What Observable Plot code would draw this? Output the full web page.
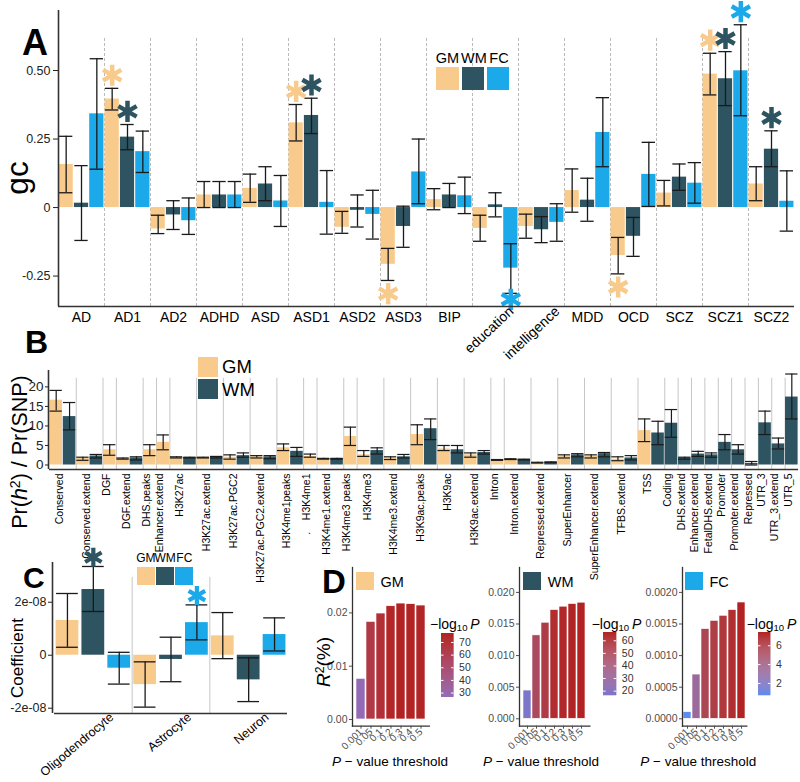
<!DOCTYPE html>
<html>
<head>
<meta charset="utf-8">
<script src="https://cdn.jsdelivr.net/npm/d3@7"></script>
<script src="https://cdn.jsdelivr.net/npm/@observablehq/plot@0.6"></script>
<style>
  html, body { margin: 0; padding: 0; background: #fff; }
  #root { position: relative; width: 800px; height: 782px; overflow: hidden; font-family: "Liberation Sans", Arial, Helvetica, sans-serif; color: #000; }
  .ov { position: absolute; line-height: 1; white-space: nowrap; }
  .sw { position: absolute; }
</style>
</head>
<body>
<div id="root"></div>
<script>
// ================= DATA =================
// Panel A: genetic correlation (gc)
const traitsA = ["AD","AD1","AD2","ADHD","ASD","ASD1","ASD2","ASD3","BIP","education","intelligence","MDD","OCD","SCZ","SCZ1","SCZ2"];
const rotatedTraitsA = ["education","intelligence"];
const tissues = ["GM","WM","FC"];
const gcGM   = [0.157, 0.396, -0.078, 0.046, 0.070, 0.309, -0.072, -0.207, 0.029, -0.076, -0.069, 0.062, -0.175, 0.053, 0.487, 0.086];
const gcGMlo = [0.054, 0.356, -0.095, 0.000, 0.019, 0.243, -0.094, -0.266, -0.008, -0.123, -0.112, -0.017, -0.242, 0.006, 0.411, 0.025];
const gcGMhi = [0.260, 0.435, -0.028, 0.095, 0.122, 0.376, -0.014, -0.149, 0.069, -0.028, -0.024, 0.141, -0.109, 0.099, 0.563, 0.149];
const gcWM   = [0.016, 0.257, -0.027, 0.046, 0.086, 0.336, -0.010, -0.069, 0.046, 0.010, -0.081, 0.027, -0.105, 0.111, 0.470, 0.213];
const gcWMlo = [-0.120, 0.211, -0.080, 0.000, 0.025, 0.270, -0.071, -0.145, 0.000, -0.034, -0.128, -0.050, -0.178, 0.063, 0.372, 0.149];
const gcWMhi = [0.153, 0.303, 0.025, 0.095, 0.149, 0.399, 0.046, 0.005, 0.088, 0.054, -0.033, 0.107, -0.036, 0.159, 0.569, 0.280];
const gcFC   = [0.342, 0.204, -0.048, 0.046, 0.024, 0.019, -0.025, 0.130, 0.043, -0.221, -0.054, 0.274, 0.121, 0.089, 0.499, 0.023];
const gcFClo = [0.140, 0.128, -0.098, 0.000, -0.069, -0.097, -0.115, 0.014, -0.022, -0.313, -0.123, 0.149, 0.004, 0.016, 0.335, -0.086];
const gcFChi = [0.543, 0.279, 0.035, 0.095, 0.117, 0.135, 0.063, 0.250, 0.111, -0.132, 0.014, 0.401, 0.238, 0.164, 0.667, 0.134];
const sigGM_A = ["AD1","ASD1","ASD3","OCD","SCZ1"];
const sigWM_A = ["AD1","ASD1","SCZ1","SCZ2"];
const sigFC_A = ["education","SCZ1"];
const ticksA = [-0.25, 0, 0.25, 0.5];
const tickLabelsA = ["-0.25", "0", "0.25", "0.50"];

// Panel B: enrichment Pr(h2)/Pr(SNP)
const annotB = ["Conserved","Conserved.extend","DGF","DGF.extend","DHS.peaks","Enhancer.extend","H3K27ac","H3K27ac.extend","H3K27ac.PGC2","H3K27ac.PGC2.extend","H3K4me1peaks",".\u00a0\u00a0\u00a0\u00a0H3K4me1","H3K4me1.extend","H3K4me3 peaks","H3K4me3","H3K4me3.extend","H3K9ac.peaks","H3K9ac","H3K9ac.extend","Intron","Intron.extend","Repressed.extend","SuperEnhancer","SuperEnhancer.extend","TFBS.extend","TSS","Coding","DHS.extend","Enhancer.extend","FetalDHS.extend","Promoter","Promoter.extend","Repressed","UTR_3","UTR_3.extend","UTR_5"];
const tissuesB = ["GM","WM"];
const enrGM   = [16.6,1.7,3.9,1.6,3.9,5.8,1.9,1.9,2.0,2.1,4.4,2.2,1.6,7.3,2.6,1.8,7.8,4.1,2.6,1.3,1.5,0.6,2.2,2.2,1.5,8.8,null,null,null,null,null,null,null,null,null,null];
const enrGMlo = [13.8,1.2,2.5,1.5,2.4,3.9,1.8,1.8,1.5,1.8,3.7,2.0,1.5,5.0,2.2,1.4,5.2,3.7,2.0,1.2,1.4,0.5,1.8,1.8,1.1,6.0,null,null,null,null,null,null,null,null,null,null];
const enrGMhi = [19.1,2.0,5.2,1.8,5.2,7.7,2.1,2.0,2.6,2.4,5.4,2.8,1.7,9.7,3.7,2.1,10.3,5.0,3.1,1.4,1.6,0.7,2.6,2.6,2.1,11.8,null,null,null,null,null,null,null,null,null,null];
const enrWM   = [12.4,2.3,null,1.8,null,null,1.9,2.0,2.4,2.1,3.5,null,1.6,null,3.7,2.1,9.3,3.9,3.2,null,1.4,0.7,2.6,2.9,1.8,8.2,10.7,1.8,2.8,2.6,5.8,3.9,0.4,10.8,5.4,17.4];
const enrWMlo = [9.0,1.8,null,1.3,null,null,1.8,1.8,2.0,1.6,2.2,null,1.5,null,2.8,1.8,6.5,3.1,2.8,null,1.3,0.6,2.1,2.1,1.3,5.2,7.1,1.5,2.2,2.0,3.9,2.8,0.0,7.8,4.1,11.8];
const enrWMhi = [16.0,2.7,null,2.1,null,null,2.0,2.2,3.1,2.4,4.5,null,1.7,null,4.4,2.7,11.8,5.0,3.7,null,1.5,0.8,2.9,3.2,2.4,11.2,14.2,2.0,3.5,3.1,7.8,5.2,0.9,13.8,6.9,23.3];
const ticksB = [0, 5, 10, 15, 20];

// Panel C: cell-type coefficients
const cellTypes = ["Oligodendrocyte","Astrocyte","Neuron"];
const coefGM   = [1.31e-8, -1.11e-8, 0.73e-8];
const coefGMlo = [0.30e-8, -1.96e-8, -0.13e-8];
const coefGMhi = [2.33e-8, -0.25e-8, 1.61e-8];
const coefWM   = [2.48e-8, -0.16e-8, -0.93e-8];
const coefWMlo = [1.65e-8, -1.00e-8, -1.75e-8];
const coefWMhi = [3.35e-8, 0.68e-8, -0.10e-8];
const coefFC   = [-0.49e-8, 1.23e-8, 0.78e-8];
const coefFClo = [-1.09e-8, 0.58e-8, 0.16e-8];
const coefFChi = [0.11e-8, 1.90e-8, 1.41e-8];
const sigGM_C = [];
const sigWM_C = ["Oligodendrocyte"];
const sigFC_C = ["Astrocyte"];
const ticksC = [-2e-8, 0, 2e-8];

// Panel D: PRS R2 by P-value threshold
const thresholds = ["0.001","0.05","0.1","0.2","0.3","0.4","0.5"];
const r2GM = [0.00763, 0.01831, 0.01988, 0.02125, 0.02175, 0.02163, 0.02138];
const r2WM = [0.00447, 0.01320, 0.01520, 0.01720, 0.01774, 0.01816, 0.01837];
const r2FC = [0.000105, 0.00070, 0.00142, 0.00155, 0.00163, 0.00172, 0.00184];
const logpGM = [26.5, 64.9, 70.5, 75.3, 77.1, 76.7, 75.8];
const logpWM = [16.3, 47.9, 55.1, 62.4, 64.3, 65.9, 66.6];
const logpFC = [0.69, 3.3, 5.7, 6.2, 6.5, 6.9, 7.41];
const ticksD_GM = [0, 0.01, 0.02];
const ticksD_WM = [0, 0.005, 0.01, 0.015, 0.02];
const ticksD_FC = [0, 0.0005, 0.001, 0.0015, 0.002];
const legendTicksGM = [30, 40, 50, 60, 70];
const legendTicksWM = [20, 30, 40, 50, 60];
const legendTicksFC = [2, 4, 6];

// ================= STYLE =================
const FONT = '"Liberation Sans", Arial, Helvetica, sans-serif';
const INK = "#1a1a1a";
const AXIS = "#333333";
const tissueColors = ["#F8CB8C", "#2E5461", "#1BA9EA"];
const colorTissue = {domain: tissues, range: tissueColors};
const root = document.getElementById("root");
const pstyle = fs => ({background: "transparent", fontFamily: FONT, fontSize: fs + "px", overflow: "visible", maxWidth: "none", color: "#000"});

function place(el, left, top, w) {
  const wrap = document.createElement("div");
  wrap.style.cssText = `position:absolute;left:${left}px;top:${top}px;width:${w}px;`;
  wrap.appendChild(el);
  root.appendChild(wrap);
}
function txt(html, x, baseline, fs, opts = {}) {
  const d = document.createElement("div");
  d.className = "ov";
  d.innerHTML = html;
  d.style.fontSize = fs + "px";
  d.style.height = fs + "px";
  d.style.left = x + "px";
  d.style.top = (baseline - 0.8465 * fs) + "px";
  if (opts.bold) d.style.fontWeight = "bold";
  if (opts.color) d.style.color = opts.color;
  const tx = opts.anchor === "middle" ? "-50%" : opts.anchor === "end" ? "-100%" : "0";
  d.style.transform = `translateX(${tx})`;
  root.appendChild(d);
}
function vtxt(html, cx, cy, fs, opts = {}) {
  const d = document.createElement("div");
  d.className = "ov";
  d.innerHTML = html;
  d.style.fontSize = fs + "px";
  d.style.height = fs + "px";
  d.style.left = cx + "px";
  d.style.top = cy + "px";
  if (opts.color) d.style.color = opts.color;
  d.style.transform = "translate(-50%, -50%) rotate(-90deg)";
  root.appendChild(d);
}
function swatch(color, x1, y1, x2, y2) {
  const d = document.createElement("div");
  d.className = "sw";
  d.style.cssText = `position:absolute;left:${x1}px;top:${y1}px;width:${x2 - x1}px;height:${y2 - y1}px;background:${color};`;
  root.appendChild(d);
}
function errorMarks(rows, xc, half, sw) {
  return [
    Plot.ruleX(rows, {x: xc, y1: "lo", y2: "hi", stroke: INK, strokeWidth: sw}),
    Plot.ruleY(rows, {y: "lo", x1: d => xc(d) - half, x2: d => xc(d) + half, stroke: INK, strokeWidth: sw}),
    Plot.ruleY(rows, {y: "hi", x1: d => xc(d) - half, x2: d => xc(d) + half, stroke: INK, strokeWidth: sw})
  ];
}

// ================= PANEL A =================
const gcTable = {
  GM: {est: gcGM, lo: gcGMlo, hi: gcGMhi, sig: sigGM_A},
  WM: {est: gcWM, lo: gcWMlo, hi: gcWMhi, sig: sigWM_A},
  FC: {est: gcFC, lo: gcFClo, hi: gcFChi, sig: sigFC_A}
};
const rowsA = traitsA.flatMap((t, i) => tissues.map((s, j) => ({
  trait: t, tissue: s, i, j,
  est: gcTable[s].est[i], lo: gcTable[s].lo[i], hi: gcTable[s].hi[i], sig: gcTable[s].sig.includes(t)
})));
const yDomA = [-0.361, 0.719];
const xcA = d => d.i + (d.j + 0.5) / 3;
const labelMapA = new Map(ticksA.map((t, k) => [t, tickLabelsA[k]]));
const plotA = Plot.plot({
  width: 800, height: 370, marginLeft: 58, marginRight: 6, marginTop: 10, marginBottom: 64,
  style: pstyle(13),
  x: {type: "linear", domain: [0, traitsA.length], axis: null},
  y: {domain: yDomA, axis: null},
  color: colorTissue,
  marks: [
    Plot.ruleX(d3.range(1, traitsA.length), {y1: yDomA[0], y2: 0.62, stroke: "#a8a8a8", strokeWidth: 0.8, strokeDasharray: "3,2"}),
    Plot.rect(rowsA, {x1: d => d.i + d.j / 3 + 0.012, x2: d => d.i + (d.j + 1) / 3 - 0.012, y1: 0, y2: "est", fill: "tissue"}),
    ...errorMarks(rowsA, xcA, 0.145, 1.3),
    Plot.dot(rowsA.filter(d => d.sig), {
      x: xcA, y: d => d.est >= 0 ? d.hi + 0.048 : Math.max(d.lo - 0.048, -0.335),
      symbol: "asterisk", r: 10, stroke: "tissue", strokeWidth: 4.5
    }),
    Plot.ruleX([0], {stroke: AXIS, strokeWidth: 1.6}),
    Plot.ruleY([yDomA[0]], {stroke: AXIS, strokeWidth: 1.6}),
    Plot.axisY(ticksA, {tickFormat: d => labelMapA.get(d), tickSize: 5, tickPadding: 3, fontSize: 12.5, color: "#222", label: null}),
    Plot.text(traitsA.filter(t => !rotatedTraitsA.includes(t)), {x: t => traitsA.indexOf(t) + 0.5, frameAnchor: "bottom", lineAnchor: "top", dy: 5.5, fontSize: 14, fill: "#000"}),
    Plot.text(rotatedTraitsA, {x: t => traitsA.indexOf(t) + 0.5, frameAnchor: "bottom", textAnchor: "end", rotate: -43, dx: 19, dy: 6, fontSize: 14, fill: "#000"})
  ]
});
place(plotA, 0, 0, 800);

// ================= PANEL B =================
const enrTable = {
  GM: {v: enrGM, lo: enrGMlo, hi: enrGMhi},
  WM: {v: enrWM, lo: enrWMlo, hi: enrWMhi}
};
const rowsB = [], groupsB = [];
let slot = 0;
annotB.forEach((name, g) => {
  const start = slot;
  tissuesB.forEach(s => {
    const v = enrTable[s].v[g];
    if (v != null) rowsB.push({name, tissue: s, pos: slot++, v, lo: enrTable[s].lo[g], hi: enrTable[s].hi[g]});
  });
  groupsB.push({name, start, end: slot});
});
const yDomB = [-1.15, 24.2];
const xcB = d => d.pos + 0.5;
const plotB = Plot.plot({
  width: 800, height: 220, marginLeft: 49, marginRight: 2, marginTop: 10, marginBottom: 111,
  style: pstyle(13),
  x: {type: "linear", domain: [0, rowsB.length], axis: null},
  y: {domain: yDomB, axis: null},
  color: colorTissue,
  marks: [
    Plot.ruleX(groupsB.slice(1), {x: "start", y1: yDomB[0], y2: 22.2, stroke: "#c6c6c6", strokeWidth: 1}),
    Plot.rect(rowsB, {x1: d => d.pos + 0.03, x2: d => d.pos + 0.97, y1: 0, y2: "v", fill: "tissue"}),
    ...errorMarks(rowsB, xcB, 0.46, 1.2),
    Plot.ruleX([0], {stroke: AXIS, strokeWidth: 1.6, dx: -1}),
    Plot.ruleY([yDomB[0]], {stroke: AXIS, strokeWidth: 1.6}),
    Plot.axisY(ticksB, {tickSize: 4, tickPadding: 2, fontSize: 13.5, color: "#222", label: null}),
    Plot.text(groupsB, {x: d => (d.start + d.end) / 2, text: "name", frameAnchor: "bottom", rotate: -90, textAnchor: "end", dy: 4, fontSize: 10.5, fill: "#000"})
  ]
});
place(plotB, 0, 360, 800);

// ================= PANEL C =================
const coefTable = {
  GM: {est: coefGM, lo: coefGMlo, hi: coefGMhi, sig: sigGM_C},
  WM: {est: coefWM, lo: coefWMlo, hi: coefWMhi, sig: sigWM_C},
  FC: {est: coefFC, lo: coefFClo, hi: coefFChi, sig: sigFC_C}
};
const rowsC = cellTypes.flatMap((t, i) => tissues.map((s, j) => ({
  cell: t, tissue: s, i, j,
  est: coefTable[s].est[i], lo: coefTable[s].lo[i], hi: coefTable[s].hi[i], sig: coefTable[s].sig.includes(t)
})));
const yDomC = [-2.2e-8, 3.5e-8];
const xcC = d => d.i + (d.j + 0.5) / 3;
const sci = d => {
  if (d === 0) return "0";
  const [m, e] = d.toExponential(0).split("e");
  const sign = e[0] === "-" ? "-" : "+";
  return `${m}e${sign}${e.replace(/[+-]/, "").padStart(2, "0")}`;
};
const plotC = Plot.plot({
  width: 300, height: 242, marginLeft: 54, marginRight: 13, marginTop: 22, marginBottom: 69,
  style: pstyle(12.5),
  x: {type: "linear", domain: [0, cellTypes.length], axis: null},
  y: {domain: yDomC, axis: null},
  color: colorTissue,
  marks: [
    Plot.ruleX(d3.range(1, cellTypes.length), {y1: yDomC[0], y2: 2.94e-8, stroke: "#c6c6c6", strokeWidth: 1}),
    Plot.rect(rowsC, {x1: d => d.i + d.j / 3 + 0.02, x2: d => d.i + (d.j + 1) / 3 - 0.02, y1: 0, y2: "est", fill: "tissue"}),
    ...errorMarks(rowsC, xcC, 0.14, 1.3),
    Plot.dot(rowsC.filter(d => d.sig), {x: xcC, y: d => d.hi + 0.35e-8, symbol: "asterisk", r: 9, stroke: "tissue", strokeWidth: 4.2}),
    Plot.ruleX([0], {stroke: AXIS, strokeWidth: 1.6, dx: -2}),
    Plot.ruleY([yDomC[0]], {stroke: AXIS, strokeWidth: 1.6, x1: 0, x2: cellTypes.length}),
    Plot.axisY(ticksC, {tickFormat: sci, tickSize: 4, tickPadding: 2, fontSize: 12.5, color: "#222", dx: -2, label: null}),
    Plot.text(cellTypes, {x: (t, k) => k + 0.5, frameAnchor: "bottom", textAnchor: "end", rotate: -40, dx: 21, dy: 5, fontSize: 12.5, fill: "#000"})
  ]
});
place(plotC, 0, 540, 300);

// ================= PANEL D =================
const dPanels = [
  {name: "GM", color: tissueColors[0], r2: r2GM, logp: logpGM, low: "#936AB6", axisX: 351.7, right: 428.5, yDomain: [-0.00126, 0.02852], ticks: ticksD_GM, fmt: ".2f", lt: legendTicksGM, cb: {x: 440.7, y: 632.7, w: 12.6, h: 64}, sw: 356, title: 430, xc: 390},
  {name: "WM", color: tissueColors[1], r2: r2WM, logp: logpWM, low: "#7D77CC", axisX: 519.3, right: 589.7, yDomain: [-0.00117, 0.02394], ticks: ticksD_WM, fmt: ".3f", lt: legendTicksWM, cb: {x: 602.7, y: 631.7, w: 13.3, h: 63.3}, sw: 523.3, title: 591.7, xc: 541},
  {name: "FC", color: tissueColors[2], r2: r2FC, logp: logpFC, low: "#5E8CEE", axisX: 681.7, right: 746, yDomain: [-0.000117, 0.002394], ticks: ticksD_FC, fmt: ".4f", lt: legendTicksFC, cb: {x: 758.3, y: 631.7, w: 12.4, h: 63.3}, sw: 685, title: 746.7, xc: 698.3}
];
dPanels.forEach(p => {
  const mL = 52, mR = 8;
  const w = (p.right - p.axisX) + mL + mR;
  const rows = thresholds.map((t, k) => ({thr: t, r2: p.r2[k], logp: p.logp[k]}));
  const ext = d3.extent(p.logp);
  const colorD = {type: "linear", domain: ext, range: [p.low, "#B22222"], interpolate: d3.interpolateLab};
  const svg = Plot.plot({
    width: w, height: 222, marginLeft: mL, marginRight: mR, marginTop: 7, marginBottom: 56.3,
    style: pstyle(10.5),
    x: {type: "band", domain: thresholds, padding: 0.1, axis: null},
    y: {domain: p.yDomain, axis: null},
    color: colorD,
    marks: [
      Plot.barY(rows, {x: "thr", y: "r2", fill: "logp", stroke: "white", strokeWidth: 0.6}),
      Plot.frame({anchor: "left", stroke: AXIS, strokeWidth: 1.3}),
      Plot.frame({anchor: "bottom", stroke: AXIS, strokeWidth: 1.3}),
      Plot.axisY(p.ticks, {tickFormat: d3.format(p.fmt), tickSize: 3, tickPadding: 2, fontSize: 10.5, color: "#4d4d4d", label: null}),
      Plot.axisX({tickRotate: -45, tickSize: 3, tickPadding: 1, fontSize: 10, color: "#4d4d4d", label: null})
    ]
  });
  place(svg, p.axisX - mL, 560, w);

  // colour bar legend
  const n = 64, step = (ext[1] - ext[0]) / n;
  const strips = d3.range(n).map(k => ext[0] + k * step);
  const cb = Plot.plot({
    width: p.cb.w + 30, height: p.cb.h, marginLeft: 0, marginRight: 30, marginTop: 0, marginBottom: 0,
    style: pstyle(10.5),
    x: {domain: [0, 1], axis: null},
    y: {domain: ext, axis: null},
    color: colorD,
    marks: [
      Plot.rect(strips, {x1: 0, x2: 1, y1: d => d, y2: d => Math.min(ext[1], d + step * 1.3), fill: d => d + step / 2}),
      Plot.ruleY(p.lt, {x1: 0, x2: 0.2, stroke: "white", strokeWidth: 1}),
      Plot.ruleY(p.lt, {x1: 0.8, x2: 1, stroke: "white", strokeWidth: 1}),
      Plot.axisY(p.lt, {anchor: "right", tickSize: 0, tickPadding: 5, fontSize: 10.5, color: "#333", label: null})
    ]
  });
  place(cb, p.cb.x, p.cb.y, p.cb.w + 30);

  // tissue swatch + name
  swatch(p.color, p.sw, 572, p.sw + 17.5, 590);
  txt(p.name, p.sw + 24.5, 587, 14.5);
  // colour-bar title
  txt('\u2212log<span style="font-size:0.68em;position:relative;top:0.3em">10</span>\u2009<i>P</i>', p.title, 628.5, 14);
  // x title
  txt('<i>P</i> \u2212 value threshold', p.xc, 766.5, 13.5, {anchor: "middle"});
});

// ================= OVERLAY TEXT =================
// panel letters
txt("A", 22, 55, 36, {bold: true});
txt("B", 25, 353, 32, {bold: true});
txt("C", 23, 588, 30, {bold: true});
txt("D", 322, 593, 33, {bold: true});
// axis titles
vtxt("gc", 18, 178, 31.5);
vtxt('Pr(<i>h</i><span style="font-size:0.65em;position:relative;top:-0.5em">2</span>) / Pr(SNP)', 20.9, 452, 21.5);
vtxt("Coefficient", 17.4, 657.7, 17);
vtxt('<i>R</i><span style="font-size:0.65em;position:relative;top:-0.5em">2</span>(%)', 322.5, 662, 19);

// legend A
const legA = [[436, 459.3, 447.5], [461.7, 484.3, 474], [486.7, 509.3, 499]];
tissues.forEach((s, k) => {
  swatch(tissueColors[k], legA[k][0], 66.7, legA[k][1], 90);
  txt(s, legA[k][2], 63, 14.5, {anchor: "middle"});
});
// legend B
swatch(tissueColors[0], 197.7, 357.3, 218.3, 377.3);
swatch(tissueColors[1], 197.7, 379.3, 218.3, 399);
txt("GM", 222, 374, 18.5);
txt("WM", 222, 396.5, 18.5);
// legend C
const legC = [[136.7, 155], [156, 174.3], [175.3, 193.3]];
tissues.forEach((s, k) => {
  swatch(tissueColors[k], legC[k][0], 567.3, legC[k][1], 585);
  txt(s, (legC[k][0] + legC[k][1]) / 2, 562, 12, {anchor: "middle"});
});
</script>
</body>
</html>
